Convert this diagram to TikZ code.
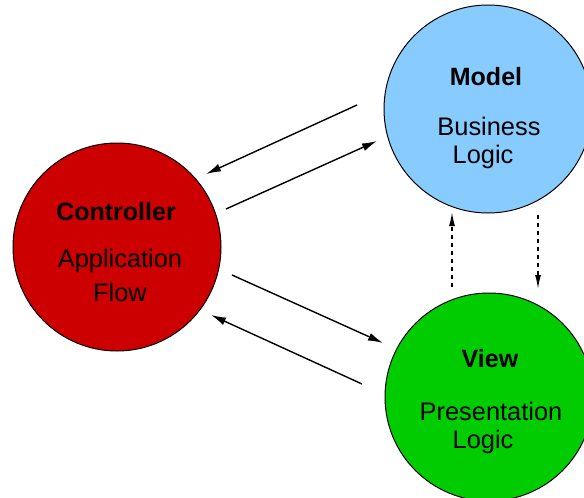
\documentclass[tikz,border=0pt]{standalone}
\usepackage{fontspec}
\setmainfont{Liberation Sans}
\usetikzlibrary{arrows.meta}
\definecolor{ctrlred}{HTML}{CC0000}
\definecolor{modelblue}{HTML}{88CCFF}
\definecolor{viewgreen}{HTML}{00CC00}
\begin{document}
\begin{tikzpicture}[x=1pt,y=-1pt,
  ball/.style={circle,draw=black,line width=1pt,minimum size=208pt,inner sep=0pt},
  title/.style={font=\fontsize{25}{30}\selectfont\bfseries,anchor=center},
  sub/.style={font=\fontsize{25.4}{30}\selectfont,anchor=center},
  conn/.style={line width=1.4pt,-{Latex[length=15pt,width=8pt]}},
  dconn/.style={line width=1.4pt,dash pattern=on 4pt off 4pt,-{Latex[length=14pt,width=6pt]}}]
\useasboundingbox (0,0) rectangle (584,498);
\clip (0,0) rectangle (584,498);
\node[ball,fill=ctrlred] (ctrl) at (117,247) {};
\node[ball,fill=modelblue] (model) at (488,109) {};
\node[ball,fill=viewgreen] (view) at (489,397) {};
\node[title] (ct) at (116,212) {Controller};
\node[sub] (c1) at (120,261) {Application};
\node[sub] (c2) at (120,292) {Flow};
\node[title] (mt) at (486,77) {Model};
\node[sub] (m1) at (489,126) {Business};
\node[sub] (m2) at (483,157) {Logic};
\node[title] (vt) at (490,359) {View};
\node[sub] (v1) at (491,411) {Presentation};
\node[sub] (v2) at (483,442) {Logic};
\coordinate (a1s) at (357,105); \coordinate (a1e) at (206,174);
\coordinate (a2s) at (226,209); \coordinate (a2e) at (377,141);
\coordinate (a3s) at (232,275); \coordinate (a3e) at (383,343);
\coordinate (a4s) at (362,384); \coordinate (a4e) at (211,315);
\coordinate (d1s) at (452,287); \coordinate (d1e) at (452,212);
\coordinate (d2s) at (538,215); \coordinate (d2e) at (538,289);
\draw[conn] (a1s) -- (a1e);
\draw[conn] (a2s) -- (a2e);
\draw[conn] (a3s) -- (a3e);
\draw[conn] (a4s) -- (a4e);
\draw[dconn] (d1s) -- (d1e);
\draw[dconn] (d2s) -- (d2e);
\end{tikzpicture}
\end{document}
